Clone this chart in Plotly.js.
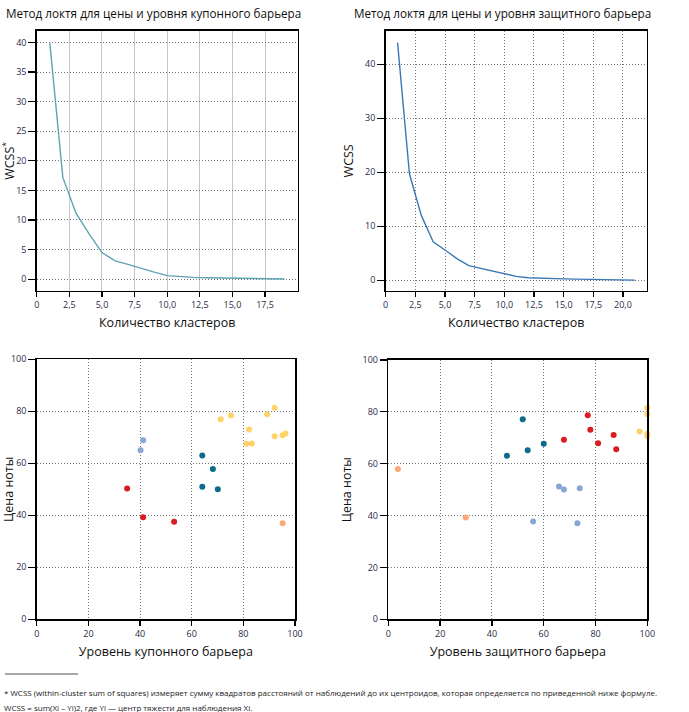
<!DOCTYPE html>
<html>
<head>
<meta charset="utf-8">
<script src="https://cdn.plot.ly/plotly-3.0.1.min.js"></script>
<style>html,body{margin:0;padding:0;background:#fff;}#chart{width:689px;height:712px;}</style>
</head>
<body>
<div id="chart"></div>
<script>
// ---- Data ----
const couponK = [1,2,3,4,5,6,7,8,9,10,11,12,13,14,15,16,17,18,19];
const couponWCSS = [40,17.2,11.2,7.7,4.5,3.1,2.5,1.8,1.2,0.6,0.4,0.3,0.25,0.2,0.15,0.1,0.08,0.05,0.03];
const protectK = [1,2,3,4,5,6,7,8,9,10,11,12,13,14,15,16,17,18,19,20,21];
const protectWCSS = [44,19.7,12,7.1,5.6,4.0,2.7,2.2,1.6,1.2,0.7,0.45,0.35,0.3,0.25,0.2,0.15,0.1,0.05,0.03,0.02];

const xTicksA = [0,2.5,5,7.5,10,12.5,15,17.5];
const xLabelsA = ["0","2,5","5,0","7,5","10,0","12,5","15,0","17,5"];
const xTicksB = [0,2.5,5,7.5,10,12.5,15,17.5,20];
const xLabelsB = ["0","2,5","5,0","7,5","10,0","12,5","15,0","17,5","20,0"];

// Scatter 1: coupon barrier level vs note price, by cluster
const c1Yellow_x = [71.2,75.2,89.2,92.1,82.2,81.2,83.3,92.1,95.2,96.3];
const c1Yellow_y = [76.9,78.4,78.9,81.4,73.0,67.5,67.6,70.4,70.8,71.5];
const c1Light_x = [41.2,40.2];
const c1Light_y = [68.9,65.0];
const c1Teal_x = [64.1,68.2,64.1,70.1];
const c1Teal_y = [63.0,57.8,51.0,50.0];
const c1Red_x = [35.0,41.2,53.2];
const c1Red_y = [50.3,39.2,37.5];
const c1Orange_x = [95.2];
const c1Orange_y = [36.9];

// Scatter 2: protective barrier level vs note price, by cluster
const c2Orange_x = [3.7,29.9];
const c2Orange_y = [58.0,39.3];
const c2Teal_x = [45.8,51.9,53.8,60.0];
const c2Teal_y = [63.1,77.1,65.2,67.7];
const c2Light_x = [65.9,67.8,73.9,55.9,73.0];
const c2Light_y = [51.2,50.1,50.5,37.7,37.0];
const c2Red_x = [67.8,77.0,78.0,81.0,87.0,88.0];
const c2Red_y = [69.2,78.7,73.1,67.9,71.1,65.6];
const c2Yellow_x = [97.0,100,100,100,100];
const c2Yellow_y = [72.4,81.5,79.1,71.6,70.6];

// ---- Styles ----
const FONT = "Open Sans, sans-serif";
const TICKCOL = "#2a2a48";
const COL = {yellow:"#fdd36a", light:"#87a7d3", teal:"#0b6b8b", red:"#d71c24", orange:"#fba872"};

function pts(x,y,color,xa,ya){
  return {x:x,y:y,type:"scatter",mode:"markers",xaxis:xa,yaxis:ya,cliponaxis:false,
    marker:{color:color,size:6},showlegend:false,hoverinfo:"x+y"};
}

const data = [
  {x:couponK,y:couponWCSS,type:"scatter",mode:"lines",xaxis:"x",yaxis:"y",
   line:{color:"#5fa3b4",width:1.4},showlegend:false},
  {x:protectK,y:protectWCSS,type:"scatter",mode:"lines",xaxis:"x2",yaxis:"y2",
   line:{color:"#3a78b4",width:1.4},showlegend:false},
  pts(c1Yellow_x,c1Yellow_y,COL.yellow,"x3","y3"),
  pts(c1Light_x,c1Light_y,COL.light,"x3","y3"),
  pts(c1Teal_x,c1Teal_y,COL.teal,"x3","y3"),
  pts(c1Red_x,c1Red_y,COL.red,"x3","y3"),
  pts(c1Orange_x,c1Orange_y,COL.orange,"x3","y3"),
  pts(c2Orange_x,c2Orange_y,COL.orange,"x4","y4"),
  pts(c2Teal_x,c2Teal_y,COL.teal,"x4","y4"),
  pts(c2Light_x,c2Light_y,COL.light,"x4","y4"),
  pts(c2Red_x,c2Red_y,COL.red,"x4","y4"),
  pts(c2Yellow_x,c2Yellow_y,COL.yellow,"x4","y4")
];

function ax(extra){
  return Object.assign({
    showline:true, linecolor:"#000", linewidth:1.5, mirror:true,
    ticks:"outside", ticklen:5, tickwidth:1.3, tickcolor:"#000",
    tickfont:{family:FONT,size:9,color:TICKCOL},
    showgrid:true, gridcolor:"#777", griddash:"1px,2px", gridwidth:1,
    zeroline:false, fixedrange:true
  }, extra);
}
function ttl(t){ return {text:t, standoff:8, font:{family:FONT,size:12.5,color:"#111"}}; }

const topDom = [0.5913,0.9569];
const botDom = [0.1302,0.4954];

const layout = {
  width:689, height:712,
  margin:{l:0,r:0,t:0,b:0},
  paper_bgcolor:"#fff", plot_bgcolor:"#fff",
  font:{family:FONT,color:"#111"},
  showlegend:false,
  xaxis: ax({domain:[0.0533,0.4321], anchor:"y", range:[0,20], tickmode:"array",
    tickvals:xTicksA, ticktext:xLabelsA, gridcolor:"#c6c6c6", griddash:"solid",
    title:ttl("Количество кластеров")}),
  yaxis: ax({domain:topDom, anchor:"x", range:[-2,42], tickvals:[0,5,10,15,20,25,30,35,40], tickmode:"array",
    ticklen:7, title:ttl("WCSS<sup>*</sup>")}),
  xaxis2: ax({domain:[0.5598,0.9386], anchor:"y2", range:[0,22], tickmode:"array",
    tickvals:xTicksB, ticktext:xLabelsB, title:ttl("Количество кластеров")}),
  yaxis2: ax({domain:topDom, anchor:"x2", range:[-2,46.2], tickvals:[0,10,20,30,40], tickmode:"array",
    ticklen:7, title:ttl("WCSS")}),
  xaxis3: ax({domain:[0.0533,0.4282], anchor:"y3", range:[0,100], tickvals:[0,20,40,60,80,100], tickmode:"array",
    title:ttl("Уровень купонного барьера")}),
  yaxis3: ax({domain:botDom, anchor:"x3", range:[0,100], tickvals:[0,20,40,60,80,100], tickmode:"array",
    ticklen:7, title:ttl("Цена ноты")}),
  xaxis4: ax({domain:[0.5636,0.9395], anchor:"y4", range:[0,100], tickvals:[0,20,40,60,80,100], tickmode:"array",
    title:ttl("Уровень защитного барьера")}),
  yaxis4: ax({domain:[0.1302,0.4944], anchor:"x4", range:[0,100], tickvals:[0,20,40,60,80,100], tickmode:"array",
    ticklen:7, title:ttl("Цена ноты")}),
  annotations:[
    {text:"Метод локтя для цены и уровня купонного барьера", xref:"paper", yref:"paper",
     x:153/689, y:1-13/712, xanchor:"center", yanchor:"middle", showarrow:false,
     font:{family:FONT,size:11.7,color:"#111"}},
    {text:"Метод локтя для цены и уровня защитного барьера", xref:"paper", yref:"paper",
     x:502/689, y:1-13/712, xanchor:"center", yanchor:"middle", showarrow:false,
     font:{family:FONT,size:11.7,color:"#111"}},
    {text:"* WCSS (within-cluster sum of squares) измеряет сумму квадратов расстояний от наблюдений до их центроидов, которая определяется по приведенной ниже формуле.",
     xref:"paper", yref:"paper", x:2/689, y:1-692/712, xanchor:"left", yanchor:"middle", showarrow:false,
     font:{family:FONT,size:8,color:"#222"}},
    {text:"WCSS = sum(Xi – Yi)2, где Yi — центр тяжести для наблюдения Xi.",
     xref:"paper", yref:"paper", x:2/689, y:1-707/712, xanchor:"left", yanchor:"middle", showarrow:false,
     font:{family:FONT,size:8,color:"#222"}}
  ],
  shapes:[
    {type:"line", xref:"paper", yref:"paper", x0:5/689, x1:78/689, y0:1-674/712, y1:1-674/712,
     line:{color:"#222",width:0.8}}
  ]
};

Plotly.newPlot("chart", data, layout, {displayModeBar:false, staticPlot:true});
</script>
</body>
</html>
